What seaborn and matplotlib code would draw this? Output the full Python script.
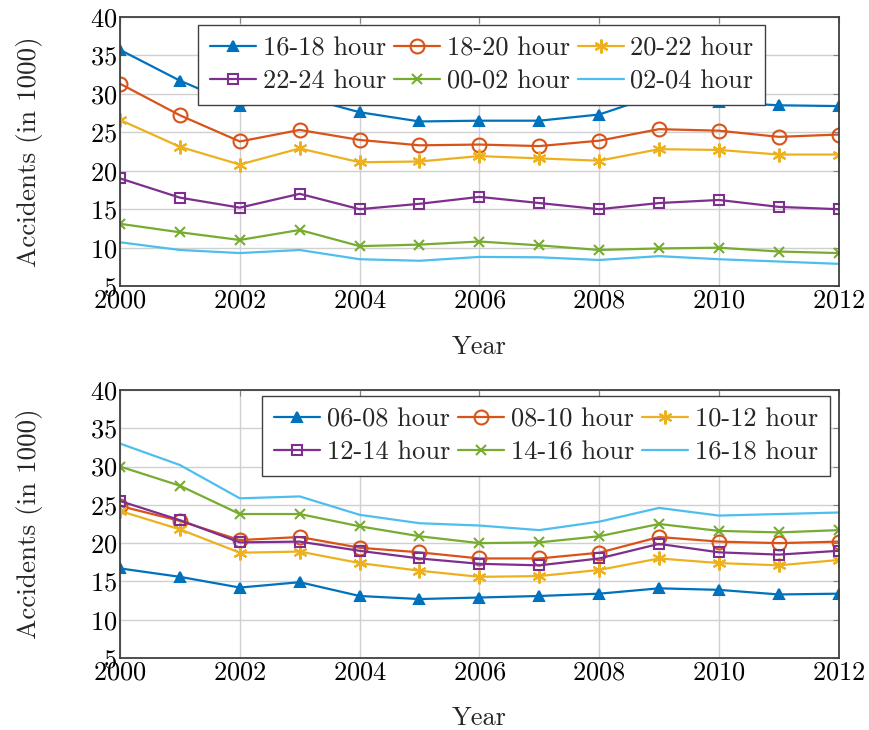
import matplotlib
matplotlib.use("Agg")
import matplotlib.pyplot as plt
import seaborn as sns
import numpy as np
import pandas as pd

years = list(range(2000, 2013))

# Top panel (evening / night)
top_labels = ["16-18 hour", "18-20 hour", "20-22 hour", "22-24 hour", "00-02 hour", "02-04 hour"]
h16_18 = [35.7, 31.7, 28.4, 29.7, 27.6, 26.4, 26.5, 26.5, 27.3, 29.9, 28.9, 28.5, 28.4]
h18_20 = [31.3, 27.2, 23.8, 25.3, 24.0, 23.3, 23.4, 23.2, 23.9, 25.4, 25.2, 24.4, 24.7]
h20_22 = [26.6, 23.1, 20.8, 22.9, 21.1, 21.2, 21.9, 21.6, 21.3, 22.8, 22.7, 22.1, 22.1]
h22_24 = [19.0, 16.5, 15.2, 17.0, 15.0, 15.7, 16.6, 15.8, 15.0, 15.8, 16.2, 15.3, 15.0]
h00_02 = [13.1, 12.0, 11.0, 12.3, 10.2, 10.4, 10.8, 10.3, 9.7, 9.9, 10.0, 9.5, 9.3]
h02_04 = [10.7, 9.7, 9.3, 9.7, 8.5, 8.3, 8.8, 8.75, 8.4, 8.9, 8.5, 8.2, 7.9]

# Bottom panel (daytime)
bot_labels = ["06-08 hour", "08-10 hour", "10-12 hour", "12-14 hour", "14-16 hour", "16-18 hour"]
h06_08 = [16.7, 15.6, 14.2, 14.9, 13.1, 12.7, 12.9, 13.1, 13.4, 14.1, 13.9, 13.3, 13.4]
h08_10 = [24.85, 22.9, 20.4, 20.8, 19.4, 18.8, 18.0, 18.0, 18.75, 20.8, 20.2, 20.0, 20.2]
h10_12 = [24.2, 21.8, 18.75, 18.9, 17.4, 16.4, 15.6, 15.7, 16.5, 18.0, 17.4, 17.1, 17.8]
h12_14 = [25.5, 23.0, 20.1, 20.2, 19.0, 18.0, 17.3, 17.1, 18.0, 19.9, 18.8, 18.5, 19.0]
h14_16 = [30.0, 27.5, 23.8, 23.8, 22.2, 20.9, 20.0, 20.1, 20.9, 22.5, 21.6, 21.4, 21.7]
h16_18b = [33.0, 30.2, 25.85, 26.1, 23.7, 22.6, 22.3, 21.7, 22.8, 24.6, 23.6, 23.8, 24.0]

top_series = [h16_18, h18_20, h20_22, h22_24, h00_02, h02_04]
bot_series = [h06_08, h08_10, h10_12, h12_14, h14_16, h16_18b]

colors = ["#0072BD", "#D95319", "#EDB120", "#7E2F8E", "#77AC30", "#4DBEEE"]
styles = [
    dict(marker="^", markersize=7, markerfacecolor=None),
    dict(marker="o", markersize=10, markerfacecolor="none"),
    dict(marker=(6, 2, 0), markersize=10),
    dict(marker="s", markersize=7.5, markerfacecolor="none"),
    dict(marker="x", markersize=7),
    dict(marker=None),
]

sns.set_theme(style="whitegrid")
plt.rcParams["font.family"] = ["cmr10", "DejaVu Serif"]
plt.rcParams["axes.formatter.use_mathtext"] = True
plt.rcParams["mathtext.fontset"] = "cm"

fig = plt.figure(figsize=(8.7, 7.3), dpi=100)
ax1 = fig.add_axes([0.138, 0.608, 0.826, 0.369])
ax2 = fig.add_axes([0.138, 0.0986, 0.826, 0.3672])

FS = 19

def draw(ax, labels, series, anchor):
    for lab, vals, col, st in zip(labels, series, colors, styles):
        df = pd.DataFrame({"Year": years, "Value": vals})
        kw = dict(color=col, linewidth=1.6, label=lab)
        if st["marker"] is not None:
            kw["marker"] = st["marker"]
            kw["markersize"] = st["markersize"]
            kw["markeredgecolor"] = col
            kw["markeredgewidth"] = 1.5
            if st.get("markerfacecolor") == "none":
                kw["markerfacecolor"] = "none"
            else:
                kw["markerfacecolor"] = col
        sns.lineplot(data=df, x="Year", y="Value", ax=ax, **kw)
    ax.set_xlim(2000, 2012)
    ax.set_ylim(5, 40)
    ax.set_xticks(range(2000, 2013, 2))
    ax.set_yticks(range(5, 41, 5))
    ax.grid(True, color="#d0d0d0", linewidth=1.0)
    for s in ax.spines.values():
        s.set_color("#404040")
        s.set_linewidth(1.3)
    ax.tick_params(axis="both", labelsize=FS, colors="black", pad=2,
                   direction="in", length=4, width=0.8, color="#808080",
                   top=True, right=True)
    ax.set_xlabel("Year", fontsize=FS, labelpad=16)
    ax.set_ylabel("Accidents (in 1000)", fontsize=FS + 0.5, labelpad=34)
    handles, labs = ax.get_legend_handles_labels()
    order = [0, 3, 1, 4, 2, 5]  # row-major display for 3 columns
    leg = ax.legend([handles[i] for i in order], [labs[i] for i in order],
                    ncol=3, fontsize=FS, frameon=True, fancybox=False,
                    edgecolor="#404040", framealpha=1.0, loc="upper left",
                    bbox_to_anchor=anchor,
                    handlelength=1.75, handletextpad=0.25, columnspacing=0.3,
                    labelspacing=0.35, borderpad=0.45, borderaxespad=0.0)
    leg.get_frame().set_linewidth(1.0)
    return leg

draw(ax1, top_labels, top_series, (0.1085, 0.970))
draw(ax2, bot_labels, bot_series, (0.1975, 0.978))

fig.savefig("out.png", dpi=100)
